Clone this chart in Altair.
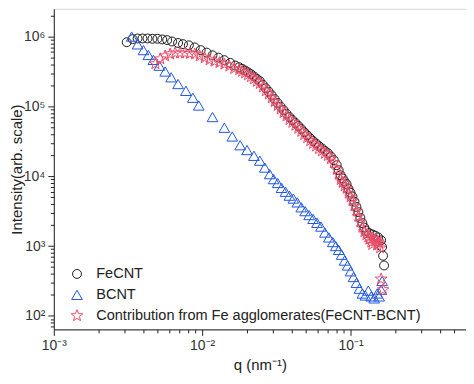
import altair as alt
import pandas as pd

series_names = ["FeCNT", "BCNT", "Contribution from Fe agglomerates(FeCNT-BCNT)"]
series_colors = ["#1c1c1c", "#1f57e0", "#ea4d68"]
star_path = ("M0,-1L0.247,-0.34L0.951,-0.309L0.399,0.13L0.588,0.809L0,0.42"
             "L-0.588,0.809L-0.399,0.13L-0.951,-0.309L-0.247,-0.34Z")
series_shapes = ["circle", "triangle-up", star_path]
series_sizes = [80, 150, 120]

fecnt_q = [0.00310, 0.00340, 0.00367, 0.00396, 0.00428, 0.00462, 0.00499, 0.00538,
           0.00581, 0.00627, 0.00688, 0.00742, 0.00813, 0.00891, 0.00977, 0.01071,
           0.01174, 0.01287, 0.01411, 0.01547, 0.01670,
           0.01775, 0.01858, 0.01945, 0.02037, 0.02133, 0.02233, 0.02338, 0.02448,
           0.02563, 0.02684, 0.02810, 0.02941, 0.03080, 0.03225, 0.03376, 0.03535,
           0.03700, 0.03873, 0.04055, 0.04246, 0.04445, 0.04654, 0.04872, 0.05101,
           0.05341, 0.05591, 0.05853, 0.06129, 0.06416, 0.06717, 0.07033, 0.07363,
           0.07708, 0.08070, 0.08322, 0.08580, 0.08846, 0.09122, 0.09406, 0.09698,
           0.1000, 0.1031, 0.1063, 0.1096, 0.1130, 0.1165, 0.1202, 0.1239, 0.1277,
           0.1337, 0.1400, 0.1466, 0.1535, 0.1607, 0.1632, 0.1657, 0.1682]
fecnt_i = [8.3e5, 9.2e5, 9.4e5, 9.4e5, 9.4e5, 9.3e5, 9.3e5, 9.1e5,
           8.9e5, 8.5e5, 8.1e5, 7.8e5, 7.5e5, 7.0e5, 6.4e5, 5.9e5,
           5.4e5, 5.0e5, 4.6e5, 4.2e5, 3.85e5,
           3.64e5, 3.46e5, 3.27e5, 3.08e5, 2.89e5, 2.68e5, 2.48e5, 2.30e5,
           2.05e5, 1.82e5, 1.63e5, 1.44e5, 1.27e5, 1.12e5, 9.94e4, 8.86e4,
           7.89e4, 7.04e4, 6.39e4, 5.81e4, 5.27e4, 4.76e4, 4.28e4, 3.86e4,
           3.49e4, 3.20e4, 2.94e4, 2.70e4, 2.50e4, 2.31e4, 2.14e4, 1.92e4,
           1.70e4, 1.44e4, 1.22e4, 1.03e4, 9.32e3, 8.41e3, 7.69e3, 6.60e3,
           5.81e3, 5.11e3, 4.31e3, 3.63e3, 3.06e3, 2.53e3, 2.13e3, 1.84e3, 1.65e3,
           1.53e3, 1.47e3, 1.41e3, 1.33e3, 1.21e3, 968, 726, 527]

bcnt_q = [0.00335, 0.00367, 0.00402, 0.00434, 0.00469, 0.00514, 0.00563, 0.00618,
          0.00688, 0.00777, 0.00865, 0.00948, 0.01174, 0.01411, 0.01595, 0.01803,
          0.02006, 0.02233, 0.02448, 0.02642, 0.02852, 0.03033, 0.03225, 0.03428,
          0.03644, 0.03873, 0.04117, 0.04377, 0.04654, 0.04946, 0.05259, 0.05591,
          0.05943, 0.06318, 0.06717, 0.0714, 0.0759, 0.0795, 0.0832, 0.0871,
          0.0912, 0.0955, 0.1000, 0.1047, 0.1096, 0.1148, 0.1202, 0.1258,
          0.1317, 0.1378, 0.1443, 0.1511, 0.1559, 0.1607, 0.1632]
bcnt_i = [1.0e6, 7.74e5, 6.40e5, 5.45e5, 4.64e5, 3.83e5, 3.16e5, 2.61e5,
          2.09e5, 1.67e5, 1.33e5, 1.03e5, 7.04e4, 4.95e4, 3.71e4, 2.78e4,
          2.37e4, 1.96e4, 1.67e4, 1.33e4, 1.07e4, 9.08e3, 8.0e3, 6.81e3,
          5.99e3, 5.27e3, 4.79e3, 4.22e3, 3.59e3, 3.16e3, 2.78e3, 2.45e3,
          2.15e3, 1.90e3, 1.56e3, 1.33e3, 1.14e3, 1.0e3, 880, 750,
          619, 527, 435, 360, 297, 245, 209, 196,
          230, 190, 178, 209, 190, 237, 316]

contrib_q = [0.00484, 0.00522, 0.00563, 0.00608, 0.00657, 0.00709, 0.00765, 0.00826,
             0.00891, 0.00962, 0.01039, 0.01121, 0.01211, 0.01307, 0.01411, 0.01523,
             0.01644,
             0.01775, 0.01858, 0.01945, 0.02037, 0.02133, 0.02233, 0.02338, 0.02448,
             0.02563, 0.02684, 0.02810, 0.02941, 0.03080, 0.03225, 0.03376, 0.03535,
             0.03700, 0.03873, 0.04055, 0.04246, 0.04445, 0.04654, 0.04872, 0.05101,
             0.05341, 0.05591, 0.05853, 0.06129, 0.06416, 0.06717, 0.07033, 0.07363,
             0.07708, 0.08070, 0.08322, 0.08580, 0.08846, 0.09122, 0.09406, 0.09698,
             0.1000, 0.1031, 0.1063, 0.1096, 0.1130, 0.1165, 0.1202, 0.1239, 0.1277,
             0.1317, 0.1337, 0.1378, 0.1400, 0.1422, 0.1466, 0.1490, 0.1511, 0.1535,
             0.1559, 0.1582, 0.1607, 0.1657]
contrib_i = [4.08e5, 4.79e5, 5.27e5, 5.62e5, 5.81e5, 5.81e5, 5.81e5, 5.71e5,
             5.62e5, 5.27e5, 4.95e5, 4.64e5, 4.42e5, 4.22e5, 4.02e5, 3.77e5,
             3.48e5,
             3.35e5, 3.18e5, 3.01e5, 2.83e5, 2.66e5, 2.47e5, 2.28e5, 2.12e5,
             1.89e5, 1.67e5, 1.50e5, 1.32e5, 1.17e5, 1.03e5, 9.14e4, 8.15e4,
             7.26e4, 6.48e4, 5.88e4, 5.35e4, 4.85e4, 4.38e4, 3.94e4, 3.55e4,
             3.21e4, 2.94e4, 2.70e4, 2.48e4, 2.30e4, 2.13e4, 1.97e4, 1.77e4,
             1.56e4, 1.25e4, 1.06e4, 8.96e3, 8.1e3, 7.3e3, 6.7e3, 5.7e3,
             5.05e3, 4.45e3, 3.75e3, 3.16e3, 2.66e3, 2.2e3, 1.85e3, 1.6e3, 1.45e3,
             1.35e3, 1.25e3, 1.14e3, 1.05e3, 1.29e3, 1.17e3, 1.25e3, 1.03e3, 1.15e3,
             1.10e3, 940, 337, 237]

x_ticks = [0.001, 0.002, 0.003, 0.004, 0.005, 0.006, 0.007, 0.008, 0.009,
           0.01, 0.02, 0.03, 0.04, 0.05, 0.06, 0.07, 0.08, 0.09,
           0.1, 0.2, 0.3, 0.4, 0.5, 0.6]
x_major = [0.001, 0.01, 0.1]
x_labels = ["10⁻³", "10⁻²", "10⁻¹"]
y_ticks = [70, 80, 90, 100, 200, 300, 400, 500, 600, 700, 800, 900,
           1000, 2000, 3000, 4000, 5000, 6000, 7000, 8000, 9000,
           10000, 20000, 30000, 40000, 50000, 60000, 70000, 80000, 90000,
           100000, 200000, 300000, 400000, 500000, 600000, 700000, 800000, 900000,
           1000000, 2000000]
y_major = [100, 1000, 10000, 100000, 1000000]
y_labels = ["10²", "10³", "10⁴", "10⁵", "10⁶"]

rows = []
for name, qs, vals in [(series_names[0], fecnt_q, fecnt_i),
                       (series_names[1], bcnt_q, bcnt_i),
                       (series_names[2], contrib_q, contrib_i)]:
    for q, v in zip(qs, vals):
        rows.append({"series": name, "q": q, "intensity": v})
df = pd.DataFrame(rows)


def label_expr(majors, labels):
    expr = "''"
    for m, l in reversed(list(zip(majors, labels))):
        expr = f"datum.value == {m} ? '{l}' : ({expr})"
    return expr


def major_test(majors):
    return "indexof([" + ",".join(str(m) for m in majors) + "], datum.value) >= 0"


font = "Liberation Sans"
common_axis = dict(grid=False, labelFontSize=14, labelColor="#333", labelFont=font,
                   titleFontSize=15, titleFontWeight="normal", titleColor="#222",
                   titleFont=font, tickColor="#222", domainColor="#222",
                   tickWidth=1, domainWidth=1, labelOverlap=False, labelFlush=False)

x_axis = alt.Axis(values=x_ticks, labelExpr=label_expr(x_major, x_labels),
                  tickSize={"condition": {"test": major_test(x_major), "value": 6}, "value": 3.5},
                  labelPadding=3, titlePadding=5, title="q (nm⁻¹)", **common_axis)
y_axis = alt.Axis(values=y_ticks, labelExpr=label_expr(y_major, y_labels),
                  tickSize={"condition": {"test": major_test(y_major), "value": 6}, "value": 3.5},
                  labelPadding=3, title="Intensity(arb. scale)",
                  titleX=-29, titleY=161, titleAlign="center", titleBaseline="bottom",
                  **common_axis)

legend = alt.Legend(title=None, orient="none", legendX=16, legendY=259,
                    labelFontSize=14.6, labelColor="#222", labelFont=font,
                    symbolSize=100, symbolStrokeWidth=1, rowPadding=6,
                    labelOffset=12, padding=0, labelLimit=0)

chart = alt.Chart(df).mark_point(filled=False, strokeWidth=1, opacity=1).encode(
    x=alt.X("q:Q", scale=alt.Scale(type="log", domain=[0.001, 0.6]), axis=x_axis),
    y=alt.Y("intensity:Q", scale=alt.Scale(type="log", domain=[64, 2.5e6]), axis=y_axis),
    color=alt.Color("series:N", scale=alt.Scale(domain=series_names, range=series_colors),
                    legend=legend),
    shape=alt.Shape("series:N", scale=alt.Scale(domain=series_names, range=series_shapes),
                    legend=legend),
    size=alt.Size("series:N", scale=alt.Scale(domain=series_names, range=series_sizes),
                  legend=None),
).properties(
    width=414, height=322,
    autosize=alt.AutoSizeParams(type="none"),
    padding={"left": 46, "top": 0, "right": 0, "bottom": 44},
).configure(font=font).configure_view(stroke="#d6d6d6", strokeWidth=1)

chart.save("out.html", embed_options={"renderer": "svg", "actions": False})
